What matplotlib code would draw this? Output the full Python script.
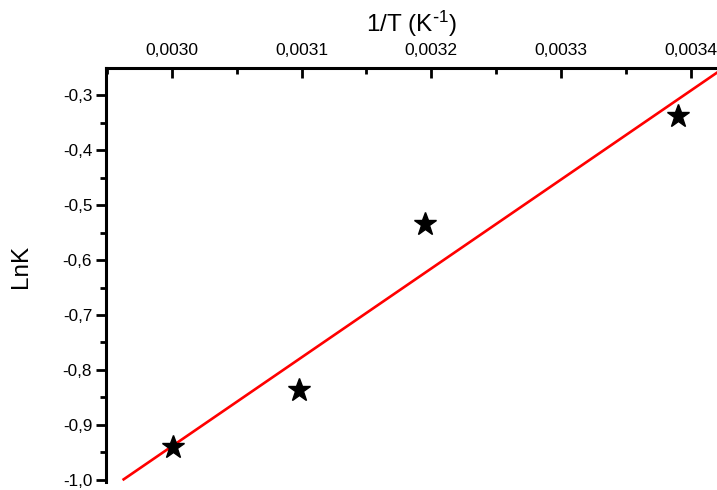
import matplotlib
matplotlib.use("Agg")
import matplotlib.pyplot as plt
import numpy as np
from matplotlib.ticker import MultipleLocator, FuncFormatter

plt.rcParams['font.family'] = ['Liberation Sans', 'DejaVu Sans']
plt.rcParams['mathtext.default'] = 'regular'

inv_T = [0.003001, 0.003098, 0.003195, 0.003390]
lnK = [-0.940, -0.836, -0.535, -0.338]

fig = plt.figure(figsize=(7.17, 4.90), dpi=100)
ax = fig.add_axes([0.148, 0.016, 0.852, 0.845])

# linear fit
slope, intercept = np.polyfit(inv_T, lnK, 1)
xf = np.array([0.002963, 0.00345])
ax.plot(xf, slope * xf + intercept, color='#ff0000', lw=1.9, zorder=2)

ax.plot(inv_T, lnK, linestyle='none', marker='*', markersize=17,
        color='black', zorder=3)

ax.set_xlim(0.0029495, 0.003420)
ax.set_ylim(-1.004, -0.251)

ax.xaxis.set_label_position('top')
ax.xaxis.tick_top()
ax.set_xlabel(r'1/T (K$^{\text{-}1}$)', fontsize=17.5, labelpad=8)
ax.set_ylabel('LnK', fontsize=17.5)
ax.yaxis.set_label_coords(-0.122, 0.52)

ax.xaxis.set_major_locator(MultipleLocator(0.0001))
ax.xaxis.set_minor_locator(MultipleLocator(0.00005))
ax.yaxis.set_major_locator(MultipleLocator(0.1))
ax.yaxis.set_minor_locator(MultipleLocator(0.05))

ax.xaxis.set_major_formatter(FuncFormatter(lambda v, p: f"{v:.4f}".replace('.', ',')))
ax.yaxis.set_major_formatter(FuncFormatter(lambda v, p: f"{v:.1f}".replace('.', ',')))

ax.tick_params(axis='x', which='major', direction='in', length=7, width=2,
               labelsize=12.6, pad=7.5, top=True, bottom=False)
ax.tick_params(axis='x', which='minor', direction='in', length=4, width=2,
               top=True, bottom=False)
ax.tick_params(axis='y', which='major', direction='out', length=7, width=2,
               labelsize=12.3, pad=3)
ax.tick_params(axis='y', which='minor', direction='out', length=4, width=2)

for s in ['right', 'bottom']:
    ax.spines[s].set_visible(False)
for s in ['left', 'top']:
    ax.spines[s].set_linewidth(2.2)

fig.savefig('out.png', dpi=100)
